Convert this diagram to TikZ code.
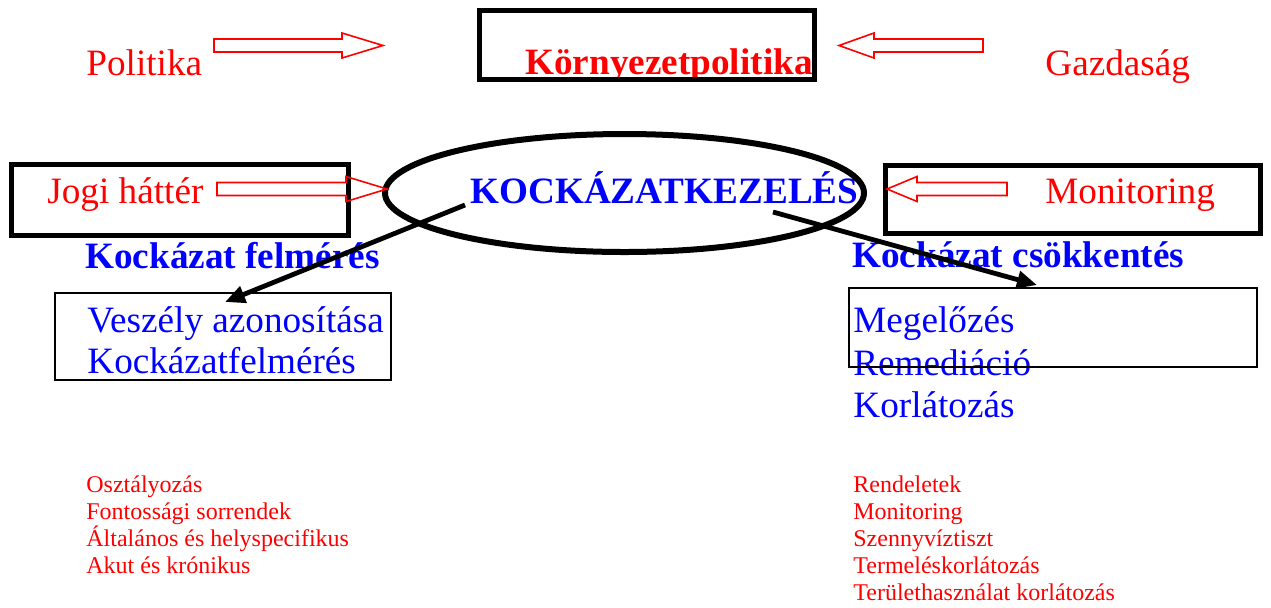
\documentclass[tikz,border=0pt]{standalone}
\usepackage{fontspec}
\setmainfont{Liberation Serif}
\usetikzlibrary{arrows.meta,shapes.geometric}

\tikzset{
  bigtxt/.style={anchor=base west,inner sep=0pt,font=\fontsize{18.6}{20}\selectfont},
  bigbold/.style={bigtxt,font=\fontsize{18.6}{20}\selectfont\bfseries},
  smalltxt/.style={anchor=base west,inner sep=0pt,text=red,font=\fontsize{12}{14}\selectfont},
  thickbox/.style={draw,line width=2.5pt},
  thinbox/.style={draw,line width=1pt},
  hollow/.style={draw=red,line width=0.8pt,line join=miter},
  pointer/.style={line width=2.4pt,-{Triangle[length=10pt,width=8.5pt]}}
}

% hollow block arrow: tail x, head base x, tip x, y
\newcommand\hollowarrow[4]{%
  \draw[hollow] ({#1},{#4-6.5}) -- ({#2},{#4-6.5}) -- ({#2},{#4-12.5}) -- ({#3},{#4})
    -- ({#2},{#4+12.5}) -- ({#2},{#4+6.5}) -- ({#1},{#4+6.5}) -- cycle;}

\begin{document}
\begin{tikzpicture}[x=0.5pt,y=-0.5pt]
\useasboundingbox (0,0) rectangle (1271,607);

% top row
\node[bigtxt,text=red] (politika) at (86,75) {Politika};
\node[bigbold,text=red] (kornypol) at (525,74) {Környezetpolitika};
\node[bigtxt,text=red] (gazdasag) at (1045,75) {Gazdaság};
\draw[thickbox] (479.5,10.5) rectangle (814.5,79.5);
\hollowarrow{214}{342}{383}{45.5}
\hollowarrow{983}{874}{839}{45.5}

% middle row
\node[bigtxt,text=red] (jogi) at (47,203) {Jogi háttér};
\node[bigbold,text=blue] (kockkez) at (470,203) {KOCKÁZATKEZELÉS};
\node[bigtxt,text=red] (monitoring) at (1045,203) {Monitoring};
\node[ellipse,draw,line width=3pt,minimum width=239.5pt,minimum height=59pt,inner sep=0pt]
  (kkell) at (624.5,193) {};
\draw[thickbox] (11.5,164.5) rectangle (348.5,235.5);
\draw[thickbox] (885.5,165.5) rectangle (1260.5,233.5);
\hollowarrow{217}{346}{387}{189}
\hollowarrow{1007}{917}{887}{189}

% left branch
\node[bigbold,text=blue] (felmeres) at (85,268) {Kockázat felmérés};
\node[bigtxt,text=blue] (veszely) at (87,332) {Veszély azonosítása};
\node[bigtxt,text=blue] (kfelm) at (87,373) {Kockázatfelmérés};
\draw[thinbox] (55,293) rectangle (391,380);

% right branch
\node[bigbold,text=blue] (csokkentes) at (852,267) {Kockázat csökkentés};
\node[bigtxt,text=blue] (megelozes) at (853,332) {Megelőzés};
\node[bigtxt,text=blue] (remediacio) at (853,375) {Remediáció};
\node[bigtxt,text=blue] (korlatozas) at (853,417) {Korlátozás};
\draw[thinbox] (849,288) rectangle (1257,367);

% small lists
\node[smalltxt] (oszt) at (86,492) {Osztályozás};
\node[smalltxt] (fontos) at (86,519) {Fontossági sorrendek};
\node[smalltxt] (altal) at (86,546) {Általános és helyspecifikus};
\node[smalltxt] (akut) at (86,573) {Akut és krónikus};

\node[smalltxt] (rend) at (853,492) {Rendeletek};
\node[smalltxt] (monit) at (853,519) {Monitoring};
\node[smalltxt] (szenny) at (853,546) {Szennyvíztiszt};
\node[smalltxt] (termel) at (853,573) {Termeléskorlátozás};
\node[smalltxt] (terul) at (853,600) {Területhasználat korlátozás};

% pointers
\coordinate (felm-from) at (465,205);
\coordinate (felm-to) at (225,302);
\coordinate (csokk-from) at (773,212);
\coordinate (csokk-to) at (1037,285);
\draw[pointer] (felm-from) -- (felm-to);
\draw[pointer] (csokk-from) -- (csokk-to);
\end{tikzpicture}
\end{document}
